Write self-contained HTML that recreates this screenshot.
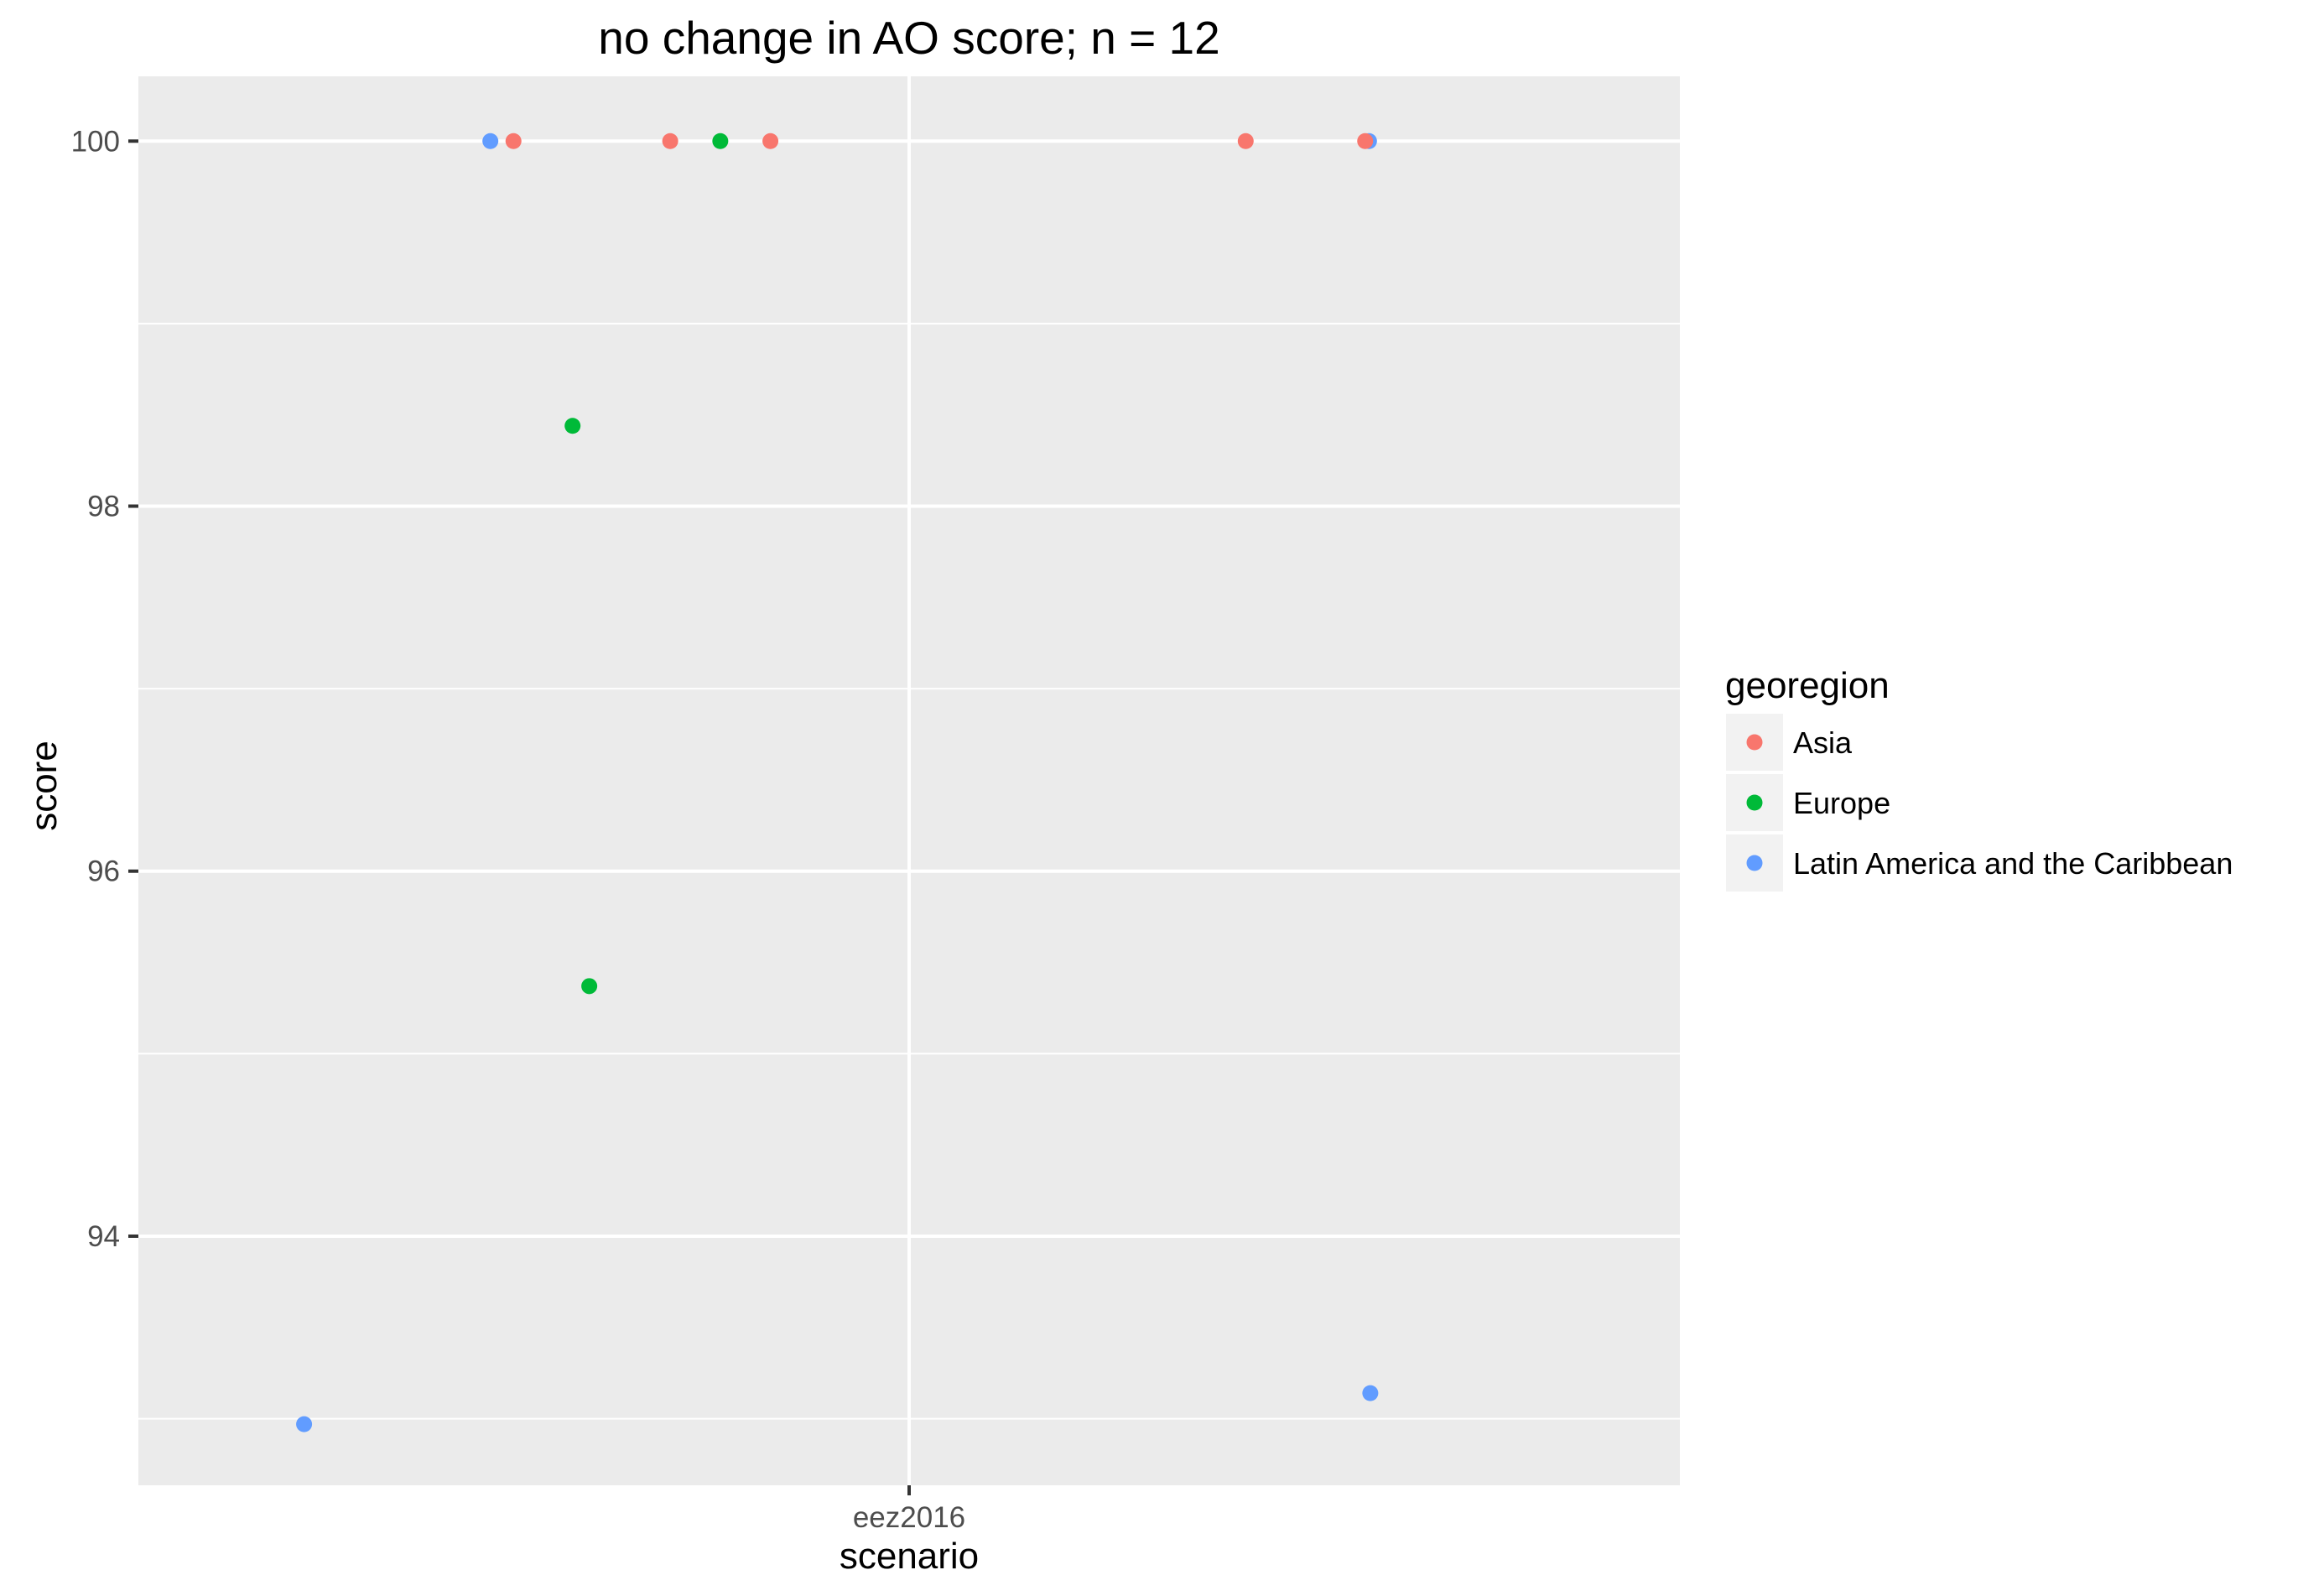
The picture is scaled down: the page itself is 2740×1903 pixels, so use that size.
<!DOCTYPE html>
<html><head><meta charset="utf-8"><style>
html,body{margin:0;padding:0;background:#fff;}
svg{display:block;font-family:"Liberation Sans",Arial,sans-serif;}
</style></head><body>
<svg id="chart" width="2740" height="1903" viewBox="0 0 2740 1903">
<rect x="0" y="0" width="2740" height="1903" fill="#fff"/>
<text x="1084" y="64" font-size="55" text-anchor="middle" fill="#000">no change in AO score; n = 12</text>
<rect x="165" y="91" width="1838" height="1680" fill="#ebebeb"/>
<g id="grid"></g>
<g id="axes"></g>
<g id="points"></g>
<text transform="translate(67,937) rotate(-90)" font-size="44" text-anchor="middle" fill="#000">score</text>
<text x="1084" y="1870" font-size="44" text-anchor="middle" fill="#000">scenario</text>
<g id="legend">
<text x="2057" y="832" font-size="44" fill="#000">georegion</text>
</g>
</svg>
<script>
const regions = ["Asia", "Europe", "Latin America and the Caribbean"];
const regionColors = ["#F8766D", "#00BA38", "#619CFF"];
const categories = ["eez2016"];
const pointRegion = [2, 0, 0, 1, 0, 1, 1, 2, 2, 0, 2, 0];
const pointX = [0.674, 0.692, 0.814, 0.853, 0.892, 0.738, 0.751, 0.529, 1.359, 1.262, 1.358, 1.355];
const pointScore = [100, 100, 100, 100, 100, 98.44, 95.37, 92.97, 93.14, 100, 100, 100];
const yTicks = [94, 96, 98, 100];
const yMinor = [93, 95, 97, 99];

const NS = "http://www.w3.org/2000/svg";
const PL = 165, PR = 2003, PT = 91, PB = 1771;
const xMin = 0.4, xMax = 1.6, yMin = 92.635, yMax = 100.355;
function xs(v){ return PL + (v - xMin) / (xMax - xMin) * (PR - PL); }
function ys(v){ return PB - (v - yMin) / (yMax - yMin) * (PB - PT); }
function mk(tag, attrs, parent){
  const e = document.createElementNS(NS, tag);
  for (const k in attrs) e.setAttribute(k, attrs[k]);
  parent.appendChild(e);
  return e;
}
const grid = document.getElementById('grid');
const axes = document.getElementById('axes');
yMinor.forEach(v => {
  const l = mk('line', {x1: PL, x2: PR, y1: ys(v), y2: ys(v), stroke: '#fff', 'stroke-width': 2}, grid);
  
  
});
yTicks.forEach(v => {
  const l = mk('line', {x1: PL, x2: PR, y1: ys(v), y2: ys(v), stroke: '#fff', 'stroke-width': 4}, grid);
  
  
  const t = mk('line', {x1: PL - 12, x2: PL, y1: ys(v), y2: ys(v), stroke: '#333', 'stroke-width': 4}, axes);
  
  
  const tx = mk('text', {x: 143, y: ys(v) + 12, 'font-size': 35, 'text-anchor': 'end', fill: '#4d4d4d'}, axes);
  tx.textContent = String(v);
  
  
});
categories.forEach((c, i) => {
  const x = xs(i + 1);
  const l = mk('line', {x1: x, x2: x, y1: PT, y2: PB, stroke: '#fff', 'stroke-width': 4}, grid);
  
  
  const t = mk('line', {x1: x, x2: x, y1: PB, y2: PB + 12, stroke: '#333', 'stroke-width': 4}, axes);
  
  
  const tx = mk('text', {x: x, y: 1821, 'font-size': 35, 'text-anchor': 'middle', fill: '#4d4d4d'}, axes);
  tx.textContent = c;
  
  
});
const pts = document.getElementById('points');
pointX.forEach((xv, i) => {
  const c = mk('circle', {cx: xs(xv), cy: ys(pointScore[i]), r: 9.5, fill: regionColors[pointRegion[i]]}, pts);
  
  
});
const leg = document.getElementById('legend');
regions.forEach((r, i) => {
  const y0 = 851 + i * 72;
  const k = mk('rect', {x: 2058, y: y0, width: 68, height: 68, fill: '#f2f2f2'}, leg);
  
  
  const c = mk('circle', {cx: 2092, cy: y0 + 34, r: 9.5, fill: regionColors[i]}, leg);
  
  
  const t = mk('text', {x: 2138, y: y0 + 47, 'font-size': 36, fill: '#000'}, leg);
  t.textContent = r;
  
  
});
</script>
</body></html>
